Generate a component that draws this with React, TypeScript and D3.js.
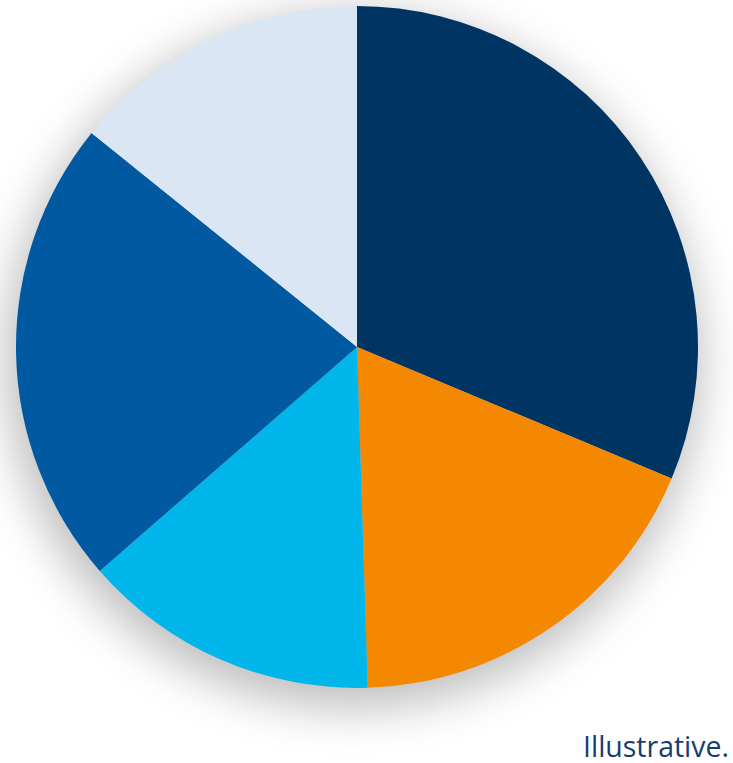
import React from "react";
import * as d3 from "d3";

const categories = ["A", "B", "C", "D", "E"];
const values = [31.3, 18.2, 14.1, 22.2, 14.2];
const colors = ["#003462", "#f48800", "#00b6ea", "#0059a1", "#dae6f3"];
const note = "Illustrative.";

export default function App() {
  const W = 733, H = 763;
  const cx = 357, cy = 347, r = 341;
  const pie = d3.pie<number>().sort(null).value((d) => d);
  const arcs = pie(values);
  const arc = d3.arc<d3.PieArcDatum<number>>().innerRadius(0).outerRadius(r);
  return (
    <svg width={W} height={H} style={{ position: "absolute", left: 0, top: 0, background: "#fff" }}>
      <defs>
        <filter id="sh" x="-30%" y="-30%" width="160%" height="160%">
          <feGaussianBlur stdDeviation="24" />
        </filter>
      </defs>
      <g transform={`translate(${cx},${cy})`}>
        <circle cx={-4} cy={14} r={r + 6} fill="#000" opacity={0.26} filter="url(#sh)" />
        {arcs.map((a, i) => (
          <path key={categories[i]} d={arc(a) || ""} fill={colors[i]} />
        ))}
      </g>
      <text x={729} y={757} textAnchor="end" fontFamily="'Open Sans', sans-serif" fontSize={30}
        fill="#173d6e" textLength={146} lengthAdjust="spacingAndGlyphs">{note}</text>
    </svg>
  );
}
